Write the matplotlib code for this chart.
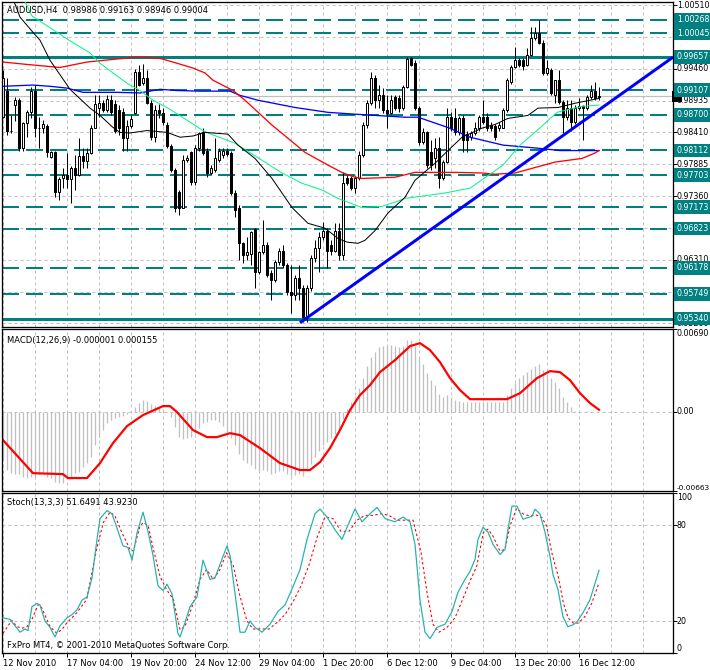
import numpy as np
import matplotlib.pyplot as plt
from matplotlib.transforms import blended_transform_factory

plt.rcParams.update({"font.family": "DejaVu Sans", "font.size": 6})

W, H = 710, 670

# ---- AUDUSD H4 candles (bar 0 = 12 Nov 2010 00:00) ----
opens = [0.9866, 0.9910, 0.9844, 0.9886, 0.9894, 0.9815, 0.9856, 0.9874, 0.9910, 0.9849,
         0.9848, 0.9851, 0.9800, 0.9808, 0.9742, 0.9765, 0.9770, 0.9764, 0.9782, 0.9770,
         0.9802, 0.9793, 0.9807, 0.9849, 0.9882, 0.9889, 0.9878, 0.9894, 0.9887, 0.9878,
         0.9874, 0.9831, 0.9851, 0.9873, 0.9940, 0.9922, 0.9930, 0.9889, 0.9833, 0.9878,
         0.9873, 0.9853, 0.9818, 0.9779, 0.9742, 0.9717, 0.9795, 0.9808, 0.9759, 0.9816,
         0.9841, 0.9811, 0.9774, 0.9779, 0.9795, 0.9803, 0.9811, 0.9807, 0.9741, 0.9716,
         0.9658, 0.9638, 0.9640, 0.9681, 0.9610, 0.9643, 0.9656, 0.9609, 0.9597, 0.9627,
         0.9646, 0.9622, 0.9577, 0.9572, 0.9600, 0.9584, 0.9536, 0.9585, 0.9633, 0.9650,
         0.9668, 0.9679, 0.9655, 0.9646, 0.9679, 0.9638, 0.9765, 0.9765, 0.9749, 0.9765,
         0.9803, 0.9853, 0.9889, 0.9930, 0.9894, 0.9902, 0.9878, 0.9873, 0.9899, 0.9897,
         0.9881, 0.9915, 0.9963, 0.9955, 0.9881, 0.9825, 0.9841, 0.9808, 0.9798, 0.9815,
         0.9765, 0.9792, 0.9866, 0.9864, 0.9841, 0.9864, 0.9838, 0.9833, 0.9840, 0.9848,
         0.9866, 0.9866, 0.9853, 0.9851, 0.9848, 0.9849, 0.9878, 0.9924, 0.9948, 0.9960,
         0.9960, 0.9952, 0.9968, 0.9996, 1.0005, 0.9988, 0.9939, 0.9944, 0.9902, 0.9927,
         0.9891, 0.9866, 0.9881, 0.9858, 0.9881, 0.9884, 0.9881, 0.9899, 0.9910, 0.98986]
highs = [0.9944, 0.9930, 0.9869, 0.9899, 0.9897, 0.9858, 0.9878, 0.9915, 0.9919, 0.9866,
         0.9861, 0.9854, 0.9811, 0.9811, 0.9767, 0.9783, 0.9807, 0.9785, 0.9803, 0.9831,
         0.9816, 0.9816, 0.9853, 0.9902, 0.9902, 0.9894, 0.9902, 0.9902, 0.9894, 0.9886,
         0.9881, 0.9861, 0.9869, 0.9945, 0.9952, 0.9953, 0.9944, 0.9894, 0.9886, 0.9887,
         0.9881, 0.9858, 0.9821, 0.9782, 0.9746, 0.9803, 0.9803, 0.9811, 0.9820, 0.9841,
         0.9848, 0.9815, 0.9787, 0.9831, 0.9815, 0.9816, 0.9816, 0.9811, 0.9746, 0.9721,
         0.9660, 0.9668, 0.9679, 0.9684, 0.9646, 0.9696, 0.9660, 0.9614, 0.9630, 0.9651,
         0.9655, 0.9625, 0.9622, 0.9605, 0.9622, 0.9589, 0.9589, 0.9638, 0.9663, 0.9676,
         0.9693, 0.9683, 0.9663, 0.9691, 0.9691, 0.9775, 0.9770, 0.9769, 0.9769, 0.9811,
         0.9858, 0.9894, 0.9940, 0.9935, 0.9919, 0.9914, 0.9902, 0.9902, 0.9902, 0.9902,
         0.9919, 0.9965, 0.9965, 0.9960, 0.9884, 0.9848, 0.9844, 0.9828, 0.9831, 0.9833,
         0.9795, 0.9882, 0.9874, 0.9882, 0.9868, 0.9869, 0.9844, 0.9844, 0.9858, 0.9869,
         0.9894, 0.9873, 0.9858, 0.9854, 0.9858, 0.9881, 0.9930, 0.9952, 0.9981, 0.9963,
         0.9963, 0.9980, 1.0014, 1.0014, 1.0026, 0.9993, 0.9960, 0.9947, 0.9927, 0.9944,
         0.9894, 0.9894, 0.9894, 0.9886, 0.9897, 0.9886, 0.9902, 0.9919, 0.9924, 0.99163]
lows = [0.9864, 0.9836, 0.9840, 0.9859, 0.9810, 0.9811, 0.9833, 0.9864, 0.9833, 0.9815,
        0.9840, 0.9800, 0.9798, 0.9734, 0.9729, 0.9750, 0.9750, 0.9724, 0.9746, 0.9769,
        0.9783, 0.9783, 0.9805, 0.9848, 0.9866, 0.9874, 0.9874, 0.9869, 0.9840, 0.9836,
        0.9811, 0.9811, 0.9849, 0.9871, 0.9917, 0.9919, 0.9887, 0.9828, 0.9825, 0.9864,
        0.9853, 0.9815, 0.9775, 0.9709, 0.9704, 0.9716, 0.9792, 0.9754, 0.9754, 0.9811,
        0.9803, 0.9767, 0.9770, 0.9775, 0.9792, 0.9798, 0.9802, 0.9737, 0.9701, 0.9630,
        0.9625, 0.9630, 0.9622, 0.9584, 0.9607, 0.9640, 0.9602, 0.9564, 0.9594, 0.9623,
        0.9617, 0.9572, 0.9543, 0.9564, 0.9564, 0.9528, 0.9528, 0.9580, 0.9627, 0.9610,
        0.9663, 0.9617, 0.9638, 0.9643, 0.9630, 0.9630, 0.9754, 0.9746, 0.9741, 0.9762,
        0.9800, 0.9849, 0.9886, 0.9882, 0.9881, 0.9873, 0.9848, 0.9871, 0.9878, 0.9874,
        0.9878, 0.9914, 0.9950, 0.9878, 0.9820, 0.9821, 0.9782, 0.9779, 0.9783, 0.9750,
        0.9762, 0.9790, 0.9844, 0.9836, 0.9836, 0.9808, 0.9808, 0.9828, 0.9836, 0.9844,
        0.9854, 0.9844, 0.9844, 0.9828, 0.9844, 0.9848, 0.9874, 0.9920, 0.9947, 0.9948,
        0.9944, 0.9950, 0.9967, 0.9993, 0.9986, 0.9935, 0.9935, 0.9902, 0.9889, 0.9887,
        0.9840, 0.9861, 0.9844, 0.9854, 0.9878, 0.9828, 0.9878, 0.9896, 0.9894, 0.98946]
closes = [0.9930, 0.9844, 0.9843, 0.9894, 0.9816, 0.9856, 0.9874, 0.9910, 0.9849, 0.9848,
          0.9854, 0.9808, 0.9808, 0.9742, 0.9764, 0.9770, 0.9764, 0.9782, 0.9770, 0.9802,
          0.9793, 0.9807, 0.9849, 0.9887, 0.9889, 0.9878, 0.9896, 0.9874, 0.9844, 0.9848,
          0.9831, 0.9851, 0.9863, 0.9940, 0.9919, 0.9930, 0.9889, 0.9833, 0.9878, 0.9873,
          0.9858, 0.9818, 0.9779, 0.9717, 0.9717, 0.9795, 0.9798, 0.9759, 0.9816, 0.9840,
          0.9807, 0.9774, 0.9782, 0.9798, 0.9811, 0.9810, 0.9805, 0.9741, 0.9713, 0.9658,
          0.9638, 0.9643, 0.9676, 0.9610, 0.9643, 0.9656, 0.9605, 0.9597, 0.9627, 0.9646,
          0.9622, 0.9577, 0.9572, 0.9600, 0.9584, 0.9536, 0.9585, 0.9633, 0.9650, 0.9668,
          0.9679, 0.9646, 0.9646, 0.9679, 0.9638, 0.9757, 0.9757, 0.9749, 0.9765, 0.9803,
          0.9853, 0.9889, 0.9930, 0.9894, 0.9902, 0.9878, 0.9873, 0.9894, 0.9882, 0.9881,
          0.9915, 0.9962, 0.9952, 0.9881, 0.9825, 0.9841, 0.9787, 0.9787, 0.9815, 0.9765,
          0.9792, 0.9866, 0.9849, 0.9841, 0.9864, 0.9828, 0.9828, 0.9840, 0.9848, 0.9866,
          0.9858, 0.9848, 0.9848, 0.9833, 0.9853, 0.9878, 0.9927, 0.9948, 0.9960, 0.9952,
          0.9950, 0.9968, 0.9996, 1.0005, 0.9988, 0.9939, 0.9947, 0.9906, 0.9927, 0.9891,
          0.9866, 0.9881, 0.9858, 0.9882, 0.9884, 0.9881, 0.9899, 0.9910, 0.9897, 0.99004]

# ---- moving averages (bar position, price) ----
ma_black_x = [2, 4.25, 7.5, 9.25, 11.75, 16.75, 21.75, 24.25, 27.5, 29.25, 31.75, 36, 41, 44.25,
              47.5, 50.5, 56.25, 58.75, 63, 67.25, 72.25, 76.25, 80.5, 83.75, 86, 88.75, 90.5,
              93, 96.25, 100.5, 103, 108, 111.25, 114.75, 119.75, 123, 126.25, 131.25, 133.75,
              138.75, 143, 149]
ma_black_y = [1.0070, 1.0031, 1.0006, 0.9993, 0.9960, 0.9912, 0.9881, 0.9869, 0.9849, 0.9841,
              0.9840, 0.9844, 0.9841, 0.9833, 0.9835, 0.9841, 0.9838, 0.9820, 0.9798, 0.9765,
              0.9717, 0.9691, 0.9683, 0.9666, 0.9660, 0.9658, 0.9663, 0.9679, 0.9708, 0.9734,
              0.9762, 0.9790, 0.9811, 0.9833, 0.9848, 0.9854, 0.9864, 0.9869, 0.9881, 0.9882,
              0.9889, 0.9897]
ma_green_x = [5, 7.25, 16.5, 21.75, 24.25, 27.5, 31, 34.25, 37.5, 41, 46, 50, 51.25, 58, 64.75,
              69.75, 74.75, 79.75, 83.75, 89.75, 94.75, 98, 100.5, 110.5, 116.75, 125, 129.25,
              133.5, 138.5, 144.75, 149]
ma_green_y = [1.0063, 1.0033, 0.9993, 0.9972, 0.9955, 0.9939, 0.9922, 0.9910, 0.9894, 0.9882,
              0.9861, 0.9844, 0.9840, 0.9823, 0.9795, 0.9774, 0.9757, 0.9746, 0.9732, 0.9717,
              0.9719, 0.9726, 0.9732, 0.9741, 0.9749, 0.9787, 0.9820, 0.9844, 0.9874, 0.9884,
              0.9886]
ma_red_x = [0, 6, 14.25, 21, 28.5, 33.5, 39.25, 42.5, 45, 47.5, 50.5, 52.5, 57.5, 60.5, 67.25,
            75.5, 81.25, 85, 88, 89.75, 98, 103, 113, 119.75, 123, 128, 133, 138, 144.75, 148, 149]
ma_red_y = [0.9957, 0.9953, 0.9948, 0.9957, 0.9962, 0.9965, 0.9963, 0.9957, 0.9952, 0.9947,
            0.9939, 0.9927, 0.9910, 0.9894, 0.9853, 0.9808, 0.9787, 0.9774, 0.9767, 0.9765,
            0.9767, 0.9775, 0.9775, 0.9774, 0.9772, 0.9774, 0.9783, 0.9792, 0.9798, 0.9807,
            0.9811]
ma_blue_x = [0, 7.5, 11.75, 16, 20, 28.5, 34.25, 39.25, 43.5, 49.25, 56.75, 59.25, 63.75, 73,
             81.25, 88, 100.5, 103.75, 111.25, 116.75, 125, 133.5, 139.25, 149]
ma_blue_y = [0.9917, 0.9919, 0.9917, 0.9914, 0.9907, 0.9907, 0.9906, 0.9912, 0.9910, 0.9909,
             0.9909, 0.9902, 0.9894, 0.9882, 0.9874, 0.9871, 0.9866, 0.9866, 0.9849, 0.9833,
             0.9820, 0.9815, 0.9811, 0.9811]

trend_x = [74.25, 167.5]
trend_y = [0.9527, 0.9965]

levels = [1.00268, 1.00045, 0.99657, 0.99107, 0.98700, 0.98112, 0.97703, 0.97173,
          0.96823, 0.96178, 0.95749, 0.95340]
level_solid = [0.99657, 0.95340]
grid_prices = [1.00510, 0.99985, 0.99460, 0.98935, 0.98410, 0.97885, 0.97360,
               0.96835, 0.96310, 0.95785, 0.95260]
bid = 0.99004

# ---- MACD(12,26,9) ----
macd_hist = [-0.00405, -0.00488, -0.00516, -0.00522, -0.00522, -0.00544, -0.00558, -0.00544, -0.00544, -0.00522,
             -0.00503, -0.00544, -0.00558, -0.00586, -0.00600, -0.00594, -0.00566, -0.00544, -0.00516, -0.00503,
             -0.00461, -0.00433, -0.00377, -0.00280, -0.00210, -0.00154, -0.00099, -0.00071, -0.00057, -0.00043,
             -0.00038, -0.00021, -0.00004, 0.00035, 0.00068, 0.00096, 0.00090, 0.00063, 0.00046, 0.00035,
             0.00018, 0.00000, -0.00043, -0.00127, -0.00210, -0.00232, -0.00224, -0.00210, -0.00182, -0.00140,
             -0.00099, -0.00085, -0.00071, -0.00071, -0.00085, -0.00120, -0.00168, -0.00224, -0.00280, -0.00351,
             -0.0040, -0.0043, -0.0045, -0.0048, -0.0050, -0.0049, -0.0050, -0.0052, -0.0051, -0.0050,
             -0.0050, -0.0052, -0.0054, -0.0053, -0.0052, -0.0054, -0.0050, -0.0044, -0.0038, -0.0033,
             -0.0028, -0.0025, -0.0022, -0.0019, -0.0016, -0.0006, 0.0002, 0.0008, 0.0013, 0.0020,
             0.0028, 0.0038, 0.0046, 0.0050, 0.0054, 0.0055, 0.0055, 0.0056, 0.0055, 0.0054,
             0.0055, 0.0060, 0.0060, 0.0055, 0.0045, 0.0040, 0.0032, 0.0026, 0.0022, 0.0015,
             0.0012, 0.0014, 0.0012, 0.0010, 0.0009, 0.0008, 0.0008, 0.00082, 0.00082, 0.00082,
             0.00082, 0.00082, 0.00082, 0.00082, 0.00082, 0.00082, 0.00138, 0.00194, 0.00235, 0.00277,
             0.00305, 0.00333, 0.00352, 0.00380, 0.00397, 0.00347, 0.00305, 0.00277, 0.00249, 0.00194,
             0.00124, 0.00082, 0.00035, 0.00007, 0.00002, -0.00002, 0.00001, 0.0, -0.00001, -0.000001]
sig_x = [0, 7.5, 15, 16.25, 21, 24.25, 27.5, 31, 35, 40, 41.75, 43.5, 47.5, 51, 53.5, 56.75, 59.25,
         64.25, 69.25, 74.25, 76.75, 79.25, 81.75, 84.25, 86.75, 89.25, 91.75, 94.25, 98, 101.75,
         104.25, 106.75, 109.25, 111.75, 114.25, 116.75, 126, 129.25, 133.5, 136.75, 139.25, 141.75,
         144.25, 146.75, 149]
sig_y = [-0.00238, -0.00514, -0.00522, -0.00555, -0.00555, -0.00430, -0.00263, -0.00121, -0.00029,
         0.00046, 0.00046, -0.00004, -0.00154, -0.00213, -0.00213, -0.00180, -0.00196, -0.00305,
         -0.00430, -0.00488, -0.00488, -0.00422, -0.00305, -0.00154, 0.00013, 0.00138, 0.00221,
         0.00330, 0.00430, 0.00547, 0.00572, 0.00514, 0.00413, 0.00280, 0.00180, 0.00104, 0.00104,
         0.00154, 0.00280, 0.00338, 0.00330, 0.00263, 0.00154, 0.00071, 0.000155]

# ---- Stochastic(13,3,3) ----
k_x = [0, 1.75, 3, 4.25, 5.5, 6.25, 7.25, 8.5, 9.25, 10.5, 11.75, 13, 14.25, 16, 17.25, 18.5, 19.75,
       21, 22.25, 23.5, 24.25, 26, 27.25, 28.5, 30, 31.25, 32.25, 33.5, 35, 36.25, 37.5, 38.75, 40,
       41, 42.25, 43.75, 44.25, 45.5, 46.75, 48.5, 50, 51.75, 53, 56, 56.75, 58.75, 59.25,
       60.5, 61.75, 63, 64.75, 66.75, 68.75, 70.5, 72.25, 74.25, 76, 78, 79.25, 81, 83, 84.75, 86.25,
       88, 89.75, 91.75, 93.5, 95.5, 98, 100, 101.75, 103, 104.25, 105.5, 106.75, 108.5, 110.5,
       112.25, 113.75, 115.5, 116.75, 118, 118.75, 120, 121.25, 122.5, 124.25, 125.5, 126.25, 127.25,
       128.5, 130, 132.25, 133, 134.25, 135.5, 136.75, 137.5, 138.75, 140, 141.25, 142.5, 143.5, 145,
       146.75, 149]
k_y = [22, 21, 17, 13, 15, 14, 29, 31, 30, 20, 16, 10, 17, 22, 24, 27, 33,
       35, 47, 71, 84, 89, 87, 78, 67, 66, 58, 75, 88, 76, 61, 42, 39,
       43, 37, 12, 10, 19, 29, 35, 58, 46, 47, 67, 61, 23, 13,
       13, 20, 16, 13, 18, 26, 30, 40, 52, 71, 87, 90, 85, 77, 71, 80,
       90, 82, 87, 91, 84, 82, 85, 82, 68, 33, 13, 9, 16, 18,
       26, 38, 46, 51, 58.5, 71, 78.6, 75.5, 67.9, 61.6, 64.8, 77.4, 91.8,
       91.8, 83.6, 85.5, 89.9, 86.8, 75.5, 60.4, 49, 39.6, 22.6, 16.4, 17.6, 19.5, 25.2,
       33.3, 51.65]
d_x = [0, 2.2, 3.4, 4.7, 5.9, 7.2, 8.8, 9.7, 11.75, 13.4, 14.7, 15.9, 18.4, 20.9, 23.4, 25.1,
       26.75, 28, 29.7, 31.75, 32.6, 34.25, 35.1, 36.3, 37.6, 39.25, 40.9, 42.6, 44.25, 45.5,
       47.6, 49.25, 50.9, 52.6, 54.25, 55.9, 57.6, 59.25, 61, 62.5, 64.5, 66.5, 68.5, 70.5, 72.5,
       74.5, 76.5, 78.5, 80.5, 82.5, 84.5, 86.5, 88.5, 90.5, 92.5, 94.5, 96.5, 98.5, 100.5, 102.5,
       104.5, 106, 107.5, 109, 111, 113, 115, 116.75, 118.4, 120.1, 121.25, 122.5, 124.25, 125.5,
       126.75, 128.4, 130.1, 131.75, 133.4, 134.7, 135.9, 137.2, 138.8, 140.1, 141.3, 142.6, 143.8,
       145.5, 147.2, 149]
d_y = [12.3, 20.4, 16.6, 15.5, 16.1, 20.8, 30.3, 28.2, 16.6, 12.4, 14.5, 18.7, 25, 33.4, 64.8,
       81.6, 88, 85.7, 75.3, 64.8, 63.7, 79.4, 81.6, 79.4, 64.8, 48, 39.6, 33.4, 14.5, 16.6,
       31.4, 46, 52.2, 46, 52.2, 62.7, 54.3, 35.4, 20, 15, 15, 15, 19, 24, 32,
       42, 55, 72, 85, 84, 76, 76, 83, 86, 86, 87, 86, 83, 83, 83,
       63, 38, 18, 13, 16, 22, 34, 45, 54, 75.3, 77.4, 73, 63.7, 64.8,
       79.4, 90.4, 86.8, 85.7, 86.2, 84.7, 79.4, 62.7, 48, 31.2, 21.8, 18.7, 18.7,
       22.8, 31.2, 43.92]

time_ticks = [0, 16, 32, 48, 64, 80, 96, 112, 128, 144]
time_labels = ["12 Nov 2010", "17 Nov 04:00", "19 Nov 20:00", "24 Nov 12:00", "29 Nov 04:00",
               "1 Dec 20:00", "6 Dec 12:00", "9 Dec 04:00", "13 Dec 20:00", "16 Dec 12:00"]

TEAL = "#008080"
GRID = "#C0C0C0"
PX = 0.72  # one pixel in points
LBL = 5.7  # right scale font size
LX = 1.0055  # right scale text x (axes fraction)

fig = plt.figure(figsize=(W / 100, H / 100), dpi=100)


def panel(top, bottom):
    return fig.add_axes([2 / W, 1 - bottom / H, 671 / W, (bottom - top) / H])


ax1 = panel(2, 327)
ax2 = panel(329, 491)
ax3 = panel(493, 653)

for ax in (ax1, ax2, ax3):
    ax.set_xlim(-0.25, 167.5)
    for s in ax.spines.values():
        s.set_linewidth(PX * 1.3)
        s.set_color("black")
    for g in range(0, 168, 8):
        ax.axvline(g, color=GRID, lw=PX, ls=(0, (3, 3)), zorder=0)
    ax.yaxis.tick_right()
    ax.tick_params(axis="y", length=3, width=PX, labelright=False)
    ax.tick_params(axis="x", length=0, labelbottom=False)

# ---- price panel ----
ax1.set_ylim(0.95200, 1.00560)
ax1.set_yticks(grid_prices)
for p in grid_prices:
    ax1.axhline(p, color=GRID, lw=PX, ls=(0, (3, 3)), zorder=0)
ax1.axhline(bid, color=GRID, lw=PX * 1.2, zorder=0.5)
for p in levels:
    if p in level_solid:
        ax1.axhline(p, color=TEAL, lw=PX * 3, zorder=1)
    else:
        ax1.axhline(p, color=TEAL, lw=PX * 2, ls=(0, (8.5, 3.5)), zorder=1)

x = np.arange(len(closes))
o = np.array(opens)
c = np.array(closes)
up = c >= o
ax1.vlines(x, lows, highs, color="black", lw=PX, zorder=2)
ax1.bar(x[up], (c - o)[up], bottom=o[up], width=0.6, color="white",
        edgecolor="black", lw=PX, zorder=2.5)
ax1.bar(x[~up], (c - o)[~up], bottom=o[~up], width=0.6, color="black",
        edgecolor="black", lw=PX, zorder=2.5)

ax1.plot(ma_blue_x, ma_blue_y, color="#0000FF", lw=PX * 1.3, zorder=3)
ax1.plot(ma_red_x, ma_red_y, color="#FF0000", lw=PX * 1.3, zorder=3)
ax1.plot(ma_green_x, ma_green_y, color="#00F58A", lw=PX, zorder=3)
ax1.plot(ma_black_x, ma_black_y, color="black", lw=PX, zorder=3)
ax1.plot(trend_x, trend_y, color="#0000FF", lw=PX * 3, zorder=4, solid_capstyle="butt")

tr1 = blended_transform_factory(ax1.transAxes, ax1.transData)
for p in grid_prices:
    ax1.text(LX, p, f"{p:.5f}", transform=tr1, va="center", ha="left", fontsize=LBL,
             color="black", clip_on=False, zorder=5)
ax1.text(1.0, bid, "   ", transform=tr1, va="center", ha="left", clip_on=False, zorder=6,
         bbox=dict(boxstyle="square,pad=0.1", fc="black", ec="none"))
for p in levels:
    ax1.text(LX, p, f"{p:.5f}", transform=tr1, va="center", ha="left", color="white",
             fontsize=LBL, clip_on=False, zorder=7,
             bbox=dict(boxstyle="square,pad=0.3", fc=TEAL, ec="none"))

fig.text(7 / W, 1 - 10 / H, "AUDUSD,H4  0.98986 0.99163 0.98946 0.99004",
         va="center", ha="left", color="black")

# ---- MACD panel ----
ax2.set_ylim(-0.00663, 0.00690)
ax2.set_yticks([0.00690, 0.0, -0.00663])
ax2.axhline(0, color=GRID, lw=PX, ls=(0, (3, 3)), zorder=0)
ax2.vlines(x, 0, macd_hist, color="#C0C0C0", lw=PX * 1.3, zorder=1)
ax2.plot(sig_x, sig_y, color="#FF0000", lw=PX * 2.2, zorder=2)
tr2 = blended_transform_factory(ax2.transAxes, ax2.transData)
ax2.text(LX, 0.00690, "0.00690", transform=tr2, va="top", ha="left", fontsize=LBL, clip_on=False)
ax2.text(LX, 0.0, "0.00", transform=tr2, va="center", ha="left", fontsize=LBL, clip_on=False)
ax2.text(LX, -0.00663, "-0.00663", transform=tr2, va="bottom", ha="left", fontsize=5.3,
         clip_on=False)
fig.text(7 / W, 1 - 340 / H, "MACD(12,26,9) -0.000001 0.000155", va="center", ha="left")

# ---- Stochastic panel ----
ax3.set_ylim(0, 100)
ax3.set_yticks([100, 80, 20, 0])
for lv in (80, 20):
    ax3.axhline(lv, color=GRID, lw=PX, ls=(0, (3, 3)), zorder=0)
ax3.plot(d_x, d_y, color="#FF0000", lw=PX * 1.1, ls=(0, (2.2, 2.2)), zorder=2)
ax3.plot(k_x, k_y, color="#20B2AA", lw=PX * 1.2, zorder=3)
tr3 = blended_transform_factory(ax3.transAxes, ax3.transData)
ax3.text(LX, 100, "100", transform=tr3, va="top", ha="left", fontsize=LBL, clip_on=False)
ax3.text(LX, 80, "80", transform=tr3, va="center", ha="left", fontsize=LBL, clip_on=False)
ax3.text(LX, 20, "20", transform=tr3, va="center", ha="left", fontsize=LBL, clip_on=False)
ax3.text(LX, 0, "0", transform=tr3, va="bottom", ha="left", fontsize=LBL, clip_on=False)
fig.text(7 / W, 1 - 502 / H, "Stoch(13,3,3) 51.6491 43.9230", va="center", ha="left")
fig.text(7 / W, 1 - 645 / H, "FxPro MT4, \u00a9 2001-2010 MetaQuotes Software Corp.",
         va="center", ha="left")

ax3.set_xticks(time_ticks)
ax3.set_xticklabels(time_labels, ha="left")
ax3.tick_params(axis="x", length=3, width=PX, pad=1.5, labelbottom=True)

fig.savefig("out.png", dpi=100, facecolor="white")
